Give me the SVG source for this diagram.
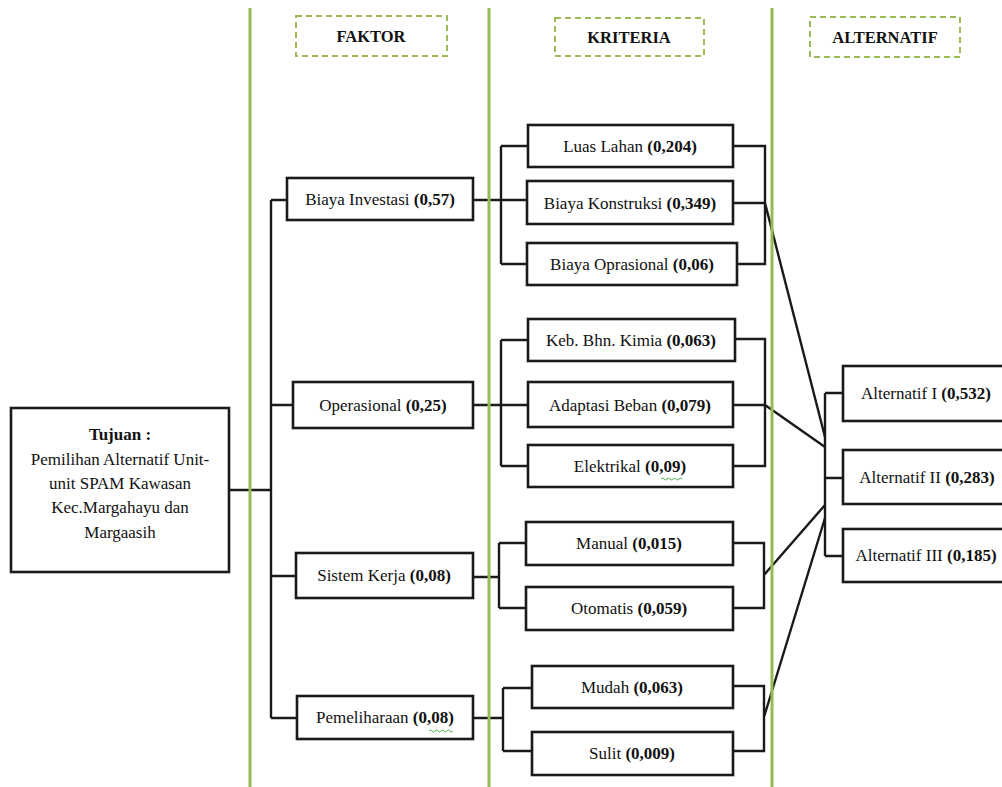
<svg xmlns="http://www.w3.org/2000/svg" width="1002" height="787" viewBox="0 0 1002 787">
<style>
.box{fill:#fff;stroke:#1a1a1a;stroke-width:2.6}
.hdr{fill:#fff;stroke:#9bbb59;stroke-width:2;stroke-dasharray:6 4}
.col{stroke:#94bb55;stroke-width:3;fill:none}
.ln{stroke:#1a1a1a;stroke-width:2.4;fill:none;stroke-linejoin:miter}
text{font-family:"Liberation Serif","Times New Roman",serif;font-size:17px;fill:#111;text-anchor:middle}
.h{font-weight:bold;font-size:16.5px}
.b{font-weight:bold}
.wavy{stroke:#4caf50;stroke-width:1;fill:none}
</style>
<rect width="1002" height="787" fill="#fff"/>
<g id="connectors">
<path class="ln" d="M229 490H271M271 200V718M271 200H287M271 405H293M271 576H296M271 718H297"/>
<path class="ln" d="M473 200H527M501 146V264M501 146H528M501 264H527"/>
<path class="ln" d="M733 146H765V264H737M733 203H765L825 437"/>
<path class="ln" d="M473 405H528M501 340V466M501 340H528M501 466H528"/>
<path class="ln" d="M735 339H765V466H733M733 405H765L825 447"/>
<path class="ln" d="M473 577H499M499 543V608M499 543H526M499 608H526"/>
<path class="ln" d="M733 543H764V608H733M764 575L825 505"/>
<path class="ln" d="M473 718H503M503 688V751M503 688H532M503 751H532"/>
<path class="ln" d="M733 686H764V751H733M764 717L825 518"/>
<path class="ln" d="M825 393V556M825 393H843M825 478H843M825 556H843"/>
</g>
<g id="columns">
<line class="col" x1="250" y1="8" x2="250" y2="787"/>
<line class="col" x1="489" y1="8" x2="489" y2="787"/>
<line class="col" x1="772" y1="8" x2="772" y2="787"/>
</g>
<g id="hdr-faktor"><rect class="hdr" x="296" y="16" width="151" height="40"/><text class="h" x="371" y="42">FAKTOR</text></g>
<g id="hdr-kriteria"><rect class="hdr" x="555" y="18" width="149" height="38"/><text class="h" x="629" y="43">KRITERIA</text></g>
<g id="hdr-alternatif"><rect class="hdr" x="810" y="17" width="150" height="40"/><text class="h" x="885" y="43">ALTERNATIF</text></g>
<g id="tujuan"><rect class="box" x="11" y="408" width="218" height="164" stroke-width="3"/>
<text x="120" y="440" class="b">Tujuan :</text>
<text x="120" y="465">Pemilihan Alternatif Unit-</text>
<text x="120" y="489">unit SPAM Kawasan</text>
<text x="120" y="513">Kec.Margahayu dan</text>
<text x="120" y="538">Margaasih</text></g>
<g id="f-biaya-investasi"><rect class="box" x="287" y="178" width="186" height="42"/><text x="380" y="205">Biaya Investasi <tspan class="b">(0,57)</tspan></text></g>
<g id="f-operasional"><rect class="box" x="293" y="382" width="180" height="46"/><text x="383" y="411">Operasional <tspan class="b">(0,25)</tspan></text></g>
<g id="f-sistem-kerja"><rect class="box" x="296" y="553" width="177" height="45"/><text x="384" y="581">Sistem Kerja <tspan class="b">(0,08)</tspan></text></g>
<g id="f-pemeliharaan"><rect class="box" x="297" y="696" width="176" height="43"/><text x="385" y="723">Pemeliharaan <tspan class="b">(0,08)</tspan></text><path class="wavy" d="M429 731q1.5-2 3 0t3 0 3 0 3 0 3 0 3 0 3 0 3 0"/></g>
<g id="k-luas-lahan"><rect class="box" x="528" y="125" width="205" height="42"/><text x="630" y="152">Luas Lahan <tspan class="b">(0,204)</tspan></text></g>
<g id="k-biaya-konstruksi"><rect class="box" x="527" y="181" width="206" height="43"/><text x="630" y="209">Biaya Konstruksi <tspan class="b">(0,349)</tspan></text></g>
<g id="k-biaya-oprasional"><rect class="box" x="527" y="243" width="210" height="42"/><text x="632" y="270">Biaya Oprasional <tspan class="b">(0,06)</tspan></text></g>
<g id="k-kimia"><rect class="box" x="528" y="319" width="207" height="42"/><text x="631" y="346">Keb. Bhn. Kimia <tspan class="b">(0,063)</tspan></text></g>
<g id="k-adaptasi"><rect class="box" x="528" y="382" width="205" height="45"/><text x="630" y="411">Adaptasi Beban <tspan class="b">(0,079)</tspan></text></g>
<g id="k-elektrikal"><rect class="box" x="528" y="445" width="205" height="42"/><text x="630" y="472">Elektrikal <tspan class="b">(0,09)</tspan></text><path class="wavy" d="M661 479q1.5-2 3 0t3 0 3 0 3 0 3 0 3 0 3 0"/></g>
<g id="k-manual"><rect class="box" x="526" y="522" width="207" height="43"/><text x="629" y="549">Manual <tspan class="b">(0,015)</tspan></text></g>
<g id="k-otomatis"><rect class="box" x="526" y="587" width="207" height="43"/><text x="629" y="614">Otomatis <tspan class="b">(0,059)</tspan></text></g>
<g id="k-mudah"><rect class="box" x="532" y="666" width="201" height="42"/><text x="632" y="693">Mudah <tspan class="b">(0,063)</tspan></text></g>
<g id="k-sulit"><rect class="box" x="532" y="732" width="201" height="43"/><text x="632" y="759">Sulit <tspan class="b">(0,009)</tspan></text></g>
<g id="a-1"><rect class="box" x="843" y="366" width="170" height="55"/><text x="926" y="399">Alternatif I <tspan class="b">(0,532)</tspan></text></g>
<g id="a-2"><rect class="box" x="843" y="450" width="170" height="54"/><text x="927" y="483">Alternatif II <tspan class="b">(0,283)</tspan></text></g>
<g id="a-3"><rect class="box" x="843" y="529" width="170" height="53"/><text x="926" y="561">Alternatif III <tspan class="b">(0,185)</tspan></text></g>
</svg>
